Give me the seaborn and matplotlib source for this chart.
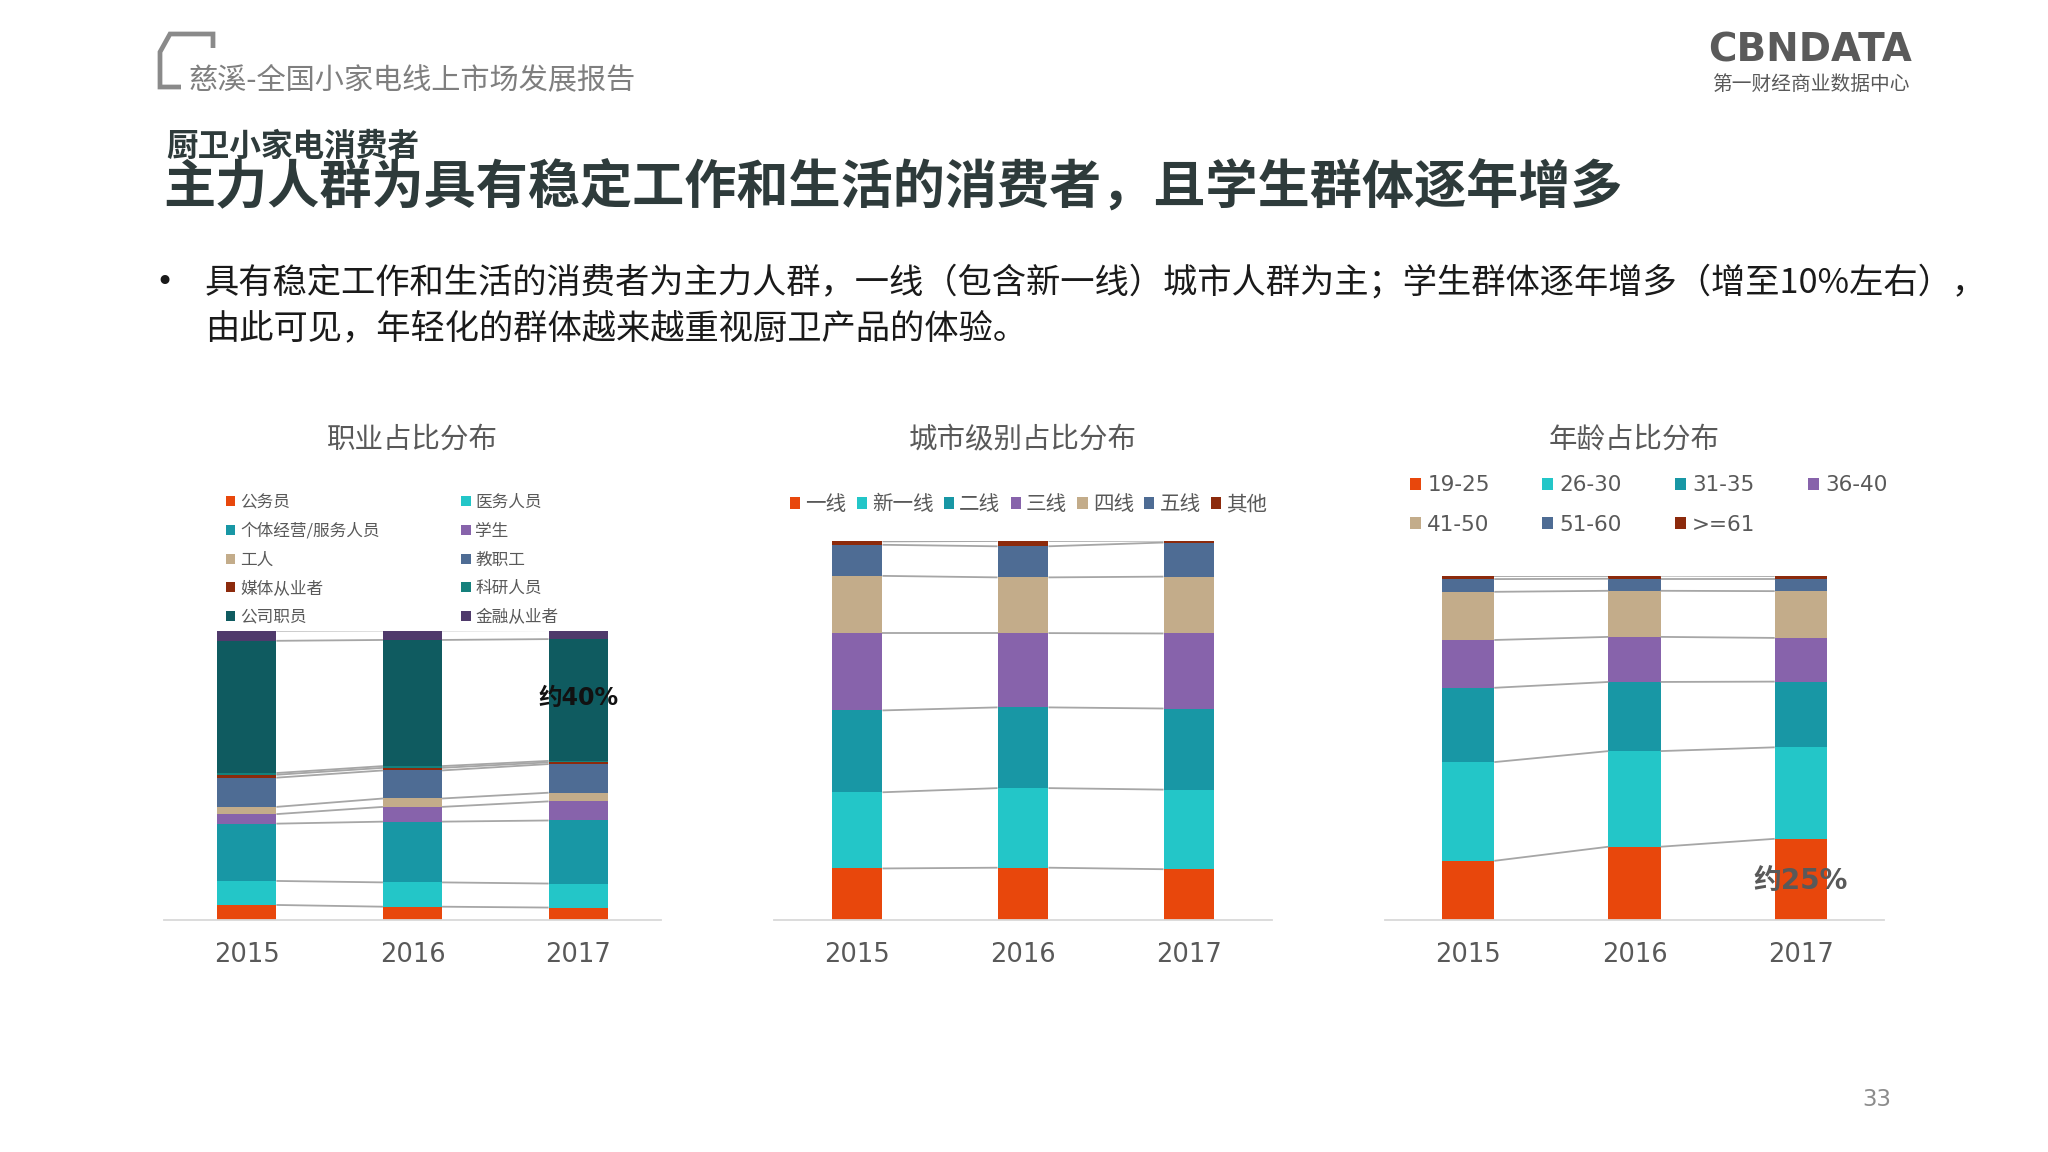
import matplotlib
matplotlib.use("Agg")
import matplotlib.pyplot as plt
from matplotlib.lines import Line2D
from matplotlib.patches import Patch
import seaborn as sns
import numpy as np

# ---------------- data ----------------
years = ["2015", "2016", "2017"]

job_labels = ["公务员", "医务人员", "个体经营/服务人员", "学生", "工人", "教职工",
              "媒体从业者", "科研人员", "公司职员", "金融从业者"]
job_2015 = [5.2, 8.3, 19.8, 3.3, 2.5, 10.1, 1.0, 0.6, 45.7, 3.5]
job_2016 = [4.6, 8.4, 21.0, 5.1, 2.9, 9.7, 0.9, 0.6, 43.6, 3.3]
job_2017 = [4.3, 8.3, 21.8, 6.6, 3.0, 9.9, 0.6, 0.5, 42.1, 3.1]

city_labels = ["一线", "新一线", "二线", "三线", "四线", "五线", "其他"]
city_2015 = [13.6, 20.1, 21.6, 20.4, 15.1, 8.2, 0.9]
city_2016 = [13.8, 21.0, 21.3, 19.6, 14.7, 8.2, 1.4]
city_2017 = [13.4, 21.0, 21.4, 19.8, 15.0, 9.0, 0.5]

age_labels = ["19-25", "26-30", "31-35", "36-40", "41-50", "51-60", ">=61"]
age_2015 = [17.2, 28.7, 21.6, 13.9, 14.0, 3.7, 1.0]
age_2016 = [21.3, 27.8, 20.1, 13.1, 13.4, 3.5, 0.9]
age_2017 = [23.6, 26.6, 19.1, 12.7, 13.6, 3.6, 0.8]

job_colors = ["#E8470C", "#23C6C8", "#1897A5", "#8763AB", "#C3AC8A", "#4E6C94",
              "#8C2A0C", "#15807C", "#0F5B60", "#4F3A6B"]
seq_colors = ["#E8470C", "#23C6C8", "#1897A5", "#8763AB", "#C3AC8A", "#4E6C94", "#8C2A0C"]

# ---------------- style ----------------
sns.set_theme(style="white")
plt.rcParams["font.family"] = ["Noto Sans CJK SC", "DejaVu Sans"]

W, H = 2048, 1152
fig = plt.figure(figsize=(20.48, 11.52), dpi=100)
fig.patch.set_facecolor("white")


def fx(x):
    return x / W


def fy(y):
    return 1 - y / H


GREY_TXT = "#595959"
DARK = "#2E3B3B"


def stacked(ax, labels, data_by_year, colors, width):
    arr = np.array(data_by_year)  # shape years x series
    cum = np.cumsum(arr, axis=1)
    n = arr.shape[1]
    for j in range(n - 1, -1, -1):
        sns.barplot(x=years, y=cum[:, j], color=colors[j], width=width,
                    saturation=1, errorbar=None, linewidth=0, ax=ax)
    for j in range(n):
        for i in range(len(years) - 1):
            ax.plot([i + width / 2, i + 1 - width / 2], [cum[i, j], cum[i + 1, j]],
                    color="#A6A6A6", lw=1.3, zorder=5, solid_capstyle="butt")
    ax.set_xlim(-0.5, 2.5)
    ax.set_ylim(0, 100)
    ax.set_xlabel("")
    ax.set_ylabel("")
    ax.set_yticks([])
    for s in ["top", "right", "left"]:
        ax.spines[s].set_visible(False)
    ax.spines["bottom"].set_color("#D9D9D9")
    ax.spines["bottom"].set_linewidth(1.3)
    ax.tick_params(axis="x", length=0, pad=15.5, labelsize=18.5, labelcolor=GREY_TXT)
    for t in ax.get_xticklabels():
        t.set_fontfamily(["DejaVu Sans"])
    ax.set_facecolor("none")


# axes
ax1 = fig.add_axes([fx(164), fy(920), fx(661 - 164), (920 - 630.7) / H])
ax2 = fig.add_axes([fx(774), fy(920), fx(1272 - 774), (920 - 541) / H])
ax3 = fig.add_axes([fx(1385), fy(920), fx(1884 - 1385), (920 - 576) / H])

stacked(ax1, job_labels, [job_2015, job_2016, job_2017], job_colors, 0.357)
stacked(ax2, city_labels, [city_2015, city_2016, city_2017], seq_colors, 0.307)
stacked(ax3, age_labels, [age_2015, age_2016, age_2017], seq_colors, 0.314)

# annotations
ax1.text(2, 76.8, "约40%", ha="center", va="center", fontsize=17, fontweight="bold",
         color="#111111", family=["DejaVu Sans", "Noto Sans CJK SC"], zorder=10)
ax3.text(2, 11.0, "约25%", ha="center", va="center", fontsize=20, fontweight="bold",
         color=GREY_TXT, family=["DejaVu Sans", "Noto Sans CJK SC"], zorder=10)

# chart titles
fig.text(fx(412), fy(440), "职业占比分布", ha="center", va="center", fontsize=20.5, color=GREY_TXT)
fig.text(fx(1023), fy(440), "城市级别占比分布", ha="center", va="center", fontsize=20.5, color=GREY_TXT)
fig.text(fx(1634.5), fy(440), "年龄占比分布", ha="center", va="center", fontsize=20.5, color=GREY_TXT)

# legends
h1 = [Patch(facecolor=c, edgecolor="none", label=l) for l, c in zip(job_labels, job_colors)]
order1 = [0, 2, 4, 6, 8, 1, 3, 5, 7, 9]
fig.legend([h1[i] for i in order1], [job_labels[i] for i in order1], loc="center left",
           bbox_to_anchor=(fx(226), fy(560)), ncol=2, frameon=False, fontsize=12,
           handlelength=0.55, handleheight=0.55, handletextpad=0.3, columnspacing=4.9,
           labelspacing=0.7, borderpad=0, borderaxespad=0, labelcolor=GREY_TXT)

h2 = [Patch(facecolor=c, edgecolor="none", label=l) for l, c in zip(city_labels, seq_colors)]
fig.legend(h2, city_labels, loc="center left", bbox_to_anchor=(fx(790), fy(504)), ncol=7,
           frameon=False, fontsize=14.8, handlelength=0.5, handleheight=0.5,
           handletextpad=0.25, columnspacing=0.5, borderpad=0, borderaxespad=0,
           labelcolor=GREY_TXT)

h3 = [Patch(facecolor=c, edgecolor="none", label=l) for l, c in zip(age_labels, seq_colors)]
order3 = [0, 4, 1, 5, 2, 6, 3]
fig.legend([h3[i] for i in order3], [age_labels[i] for i in order3], loc="center left",
           bbox_to_anchor=(fx(1410), fy(505)), ncol=4, frameon=False,
           handlelength=0.5, handleheight=0.5, handletextpad=0.3, columnspacing=2.45,
           labelspacing=0.9, borderpad=0, borderaxespad=0, labelcolor=GREY_TXT,
           prop={"family": ["DejaVu Sans"], "size": 15.5})

# ---------------- header ----------------
bcol = "#8A8A8A"
fig.add_artist(Line2D([fx(213), fx(213), fx(170), fx(160), fx(160), fx(181)],
                      [fy(48), fy(34), fy(34), fy(52), fy(87), fy(87)],
                      color=bcol, lw=3.4, solid_joinstyle="miter", solid_capstyle="butt"))
fig.text(fx(189), fy(80), "慈溪-全国小家电线上市场发展报告", ha="left", va="center",
         fontsize=21, color="#7F7F7F")
fig.text(fx(166), fy(147), "厨卫小家电消费者", ha="left", va="center", fontsize=22.8,
         fontweight="bold", color=DARK)
fig.text(fx(163), fy(188), "主力人群为具有稳定工作和生活的消费者，且学生群体逐年增多",
         ha="left", va="center", fontsize=37.5, fontweight="bold", color=DARK)

fig.text(fx(164), fy(283), "•", ha="center", va="center", fontsize=22, color="#1A1A1A",
         family=["DejaVu Sans"])
fig.text(fx(205), fy(283),
         "具有稳定工作和生活的消费者为主力人群，一线（包含新一线）城市人群为主；学生群体逐年增多（增至10%左右），",
         ha="left", va="center", fontsize=24.7, color="#1A1A1A")
fig.text(fx(205), fy(329), "由此可见，年轻化的群体越来越重视厨卫产品的体验。",
         ha="left", va="center", fontsize=24.7, color="#1A1A1A")

# logo
fig.text(fx(1810), fy(50), "CBNDATA", ha="center", va="center", fontsize=28,
         fontweight="bold", color="#5A5A5A", family=["DejaVu Sans"])
fig.text(fx(1811), fy(84), "第一财经商业数据中心", ha="center", va="center", fontsize=14.2,
         color=GREY_TXT)

# page number
fig.text(fx(1877), fy(1100), "33", ha="center", va="center", fontsize=16.5, color="#8C8C8C",
         family=["DejaVu Sans"])

fig.savefig("out.png", dpi=100, facecolor="white")
